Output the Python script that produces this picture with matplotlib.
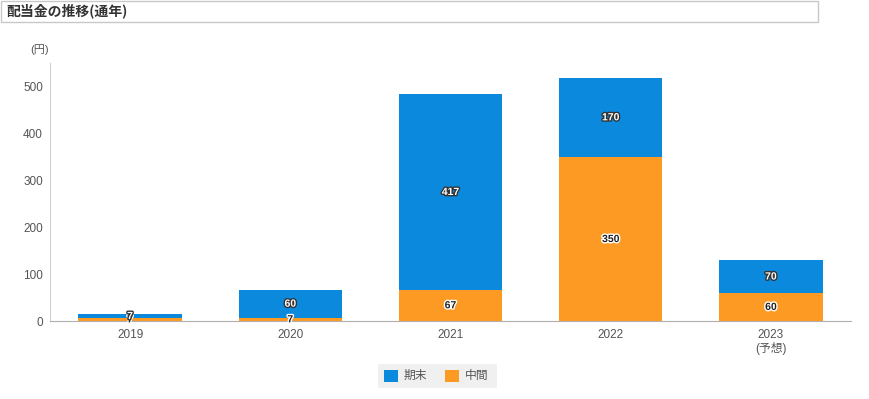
import matplotlib.pyplot as plt
import matplotlib.patheffects as pe
from matplotlib.patches import Rectangle
import numpy as np

plt.rcParams['font.family'] = ['Liberation Sans', 'Noto Sans CJK JP', 'DejaVu Sans']

# data
years = ["2019", "2020", "2021", "2022", "2023\n(予想)"]
interim = [7, 7, 67, 350, 60]      # 中間
year_end = [7, 60, 417, 170, 70]   # 期末

blue = "#0a89dd"
orange = "#fd9a23"

fig = plt.figure(figsize=(8.7, 3.99), dpi=100)
W, H = 870, 399

# title box
fig.patches.append(Rectangle((1 / W, 1 - 22 / H), 817 / W, 21 / H, transform=fig.transFigure,
                             facecolor="white", edgecolor="#c8c8c8", lw=1))
fig.text(6 / W, 1 - 11 / H, "配当金の推移(通年)", fontsize=10, weight="bold", color="#333333",
         va="center", ha="left", family=['Noto Sans CJK JP', 'DejaVu Sans'])

ax = fig.add_axes([50 / W, (H - 321) / H, 801 / W, 258 / H])
x = np.arange(len(years))
w = 0.645
ax.bar(x, interim, width=w, color=orange, zorder=2)
ax.bar(x, year_end, width=w, bottom=interim, color=blue, zorder=2)

ax.set_xlim(-0.5, len(years) - 0.5)
ax.set_ylim(0, 551)
ax.set_yticks([0, 100, 200, 300, 400, 500])
ax.set_xticks(x)
ax.set_xticklabels(years, linespacing=1.05)
ax.tick_params(axis="both", length=0, labelsize=8.5, labelcolor="#555555")
ax.tick_params(axis="x", pad=6)
ax.tick_params(axis="y", pad=5)
for s in ["top", "right"]:
    ax.spines[s].set_visible(False)
ax.spines["left"].set_color("#d0d0d0")
ax.spines["bottom"].set_color("#b0b0b0")

fig.text(40 / W, 1 - 50 / H, "(円)", fontsize=8, color="#555555", ha="center", va="center")

# data labels
for i in range(len(years)):
    ax.text(x[i], interim[i] / 2, str(interim[i]), ha="center", va="center", fontsize=7.5,
            weight="bold", color="#222222", zorder=4,
            path_effects=[pe.withStroke(linewidth=2, foreground="white")])
    ax.text(x[i], interim[i] + year_end[i] / 2, str(year_end[i]), ha="center", va="center",
            fontsize=7.5, weight="bold", color="white", zorder=5,
            path_effects=[pe.withStroke(linewidth=2, foreground="#333333")])

# legend
fig.patches.append(Rectangle((378 / W, 1 - 388 / H), 119 / W, 24 / H, transform=fig.transFigure,
                             facecolor="#f0f0f0", edgecolor="none"))
fig.patches.append(Rectangle((384 / W, 1 - 382 / H), 14 / W, 12 / H, transform=fig.transFigure,
                             facecolor=blue, edgecolor="none"))
fig.text(404 / W, 1 - 376 / H, "期末", fontsize=8.5, color="#555555", va="center")
fig.patches.append(Rectangle((445 / W, 1 - 382 / H), 14 / W, 12 / H, transform=fig.transFigure,
                             facecolor=orange, edgecolor="none"))
fig.text(465 / W, 1 - 376 / H, "中間", fontsize=8.5, color="#555555", va="center")

fig.savefig("out.png", dpi=100)
